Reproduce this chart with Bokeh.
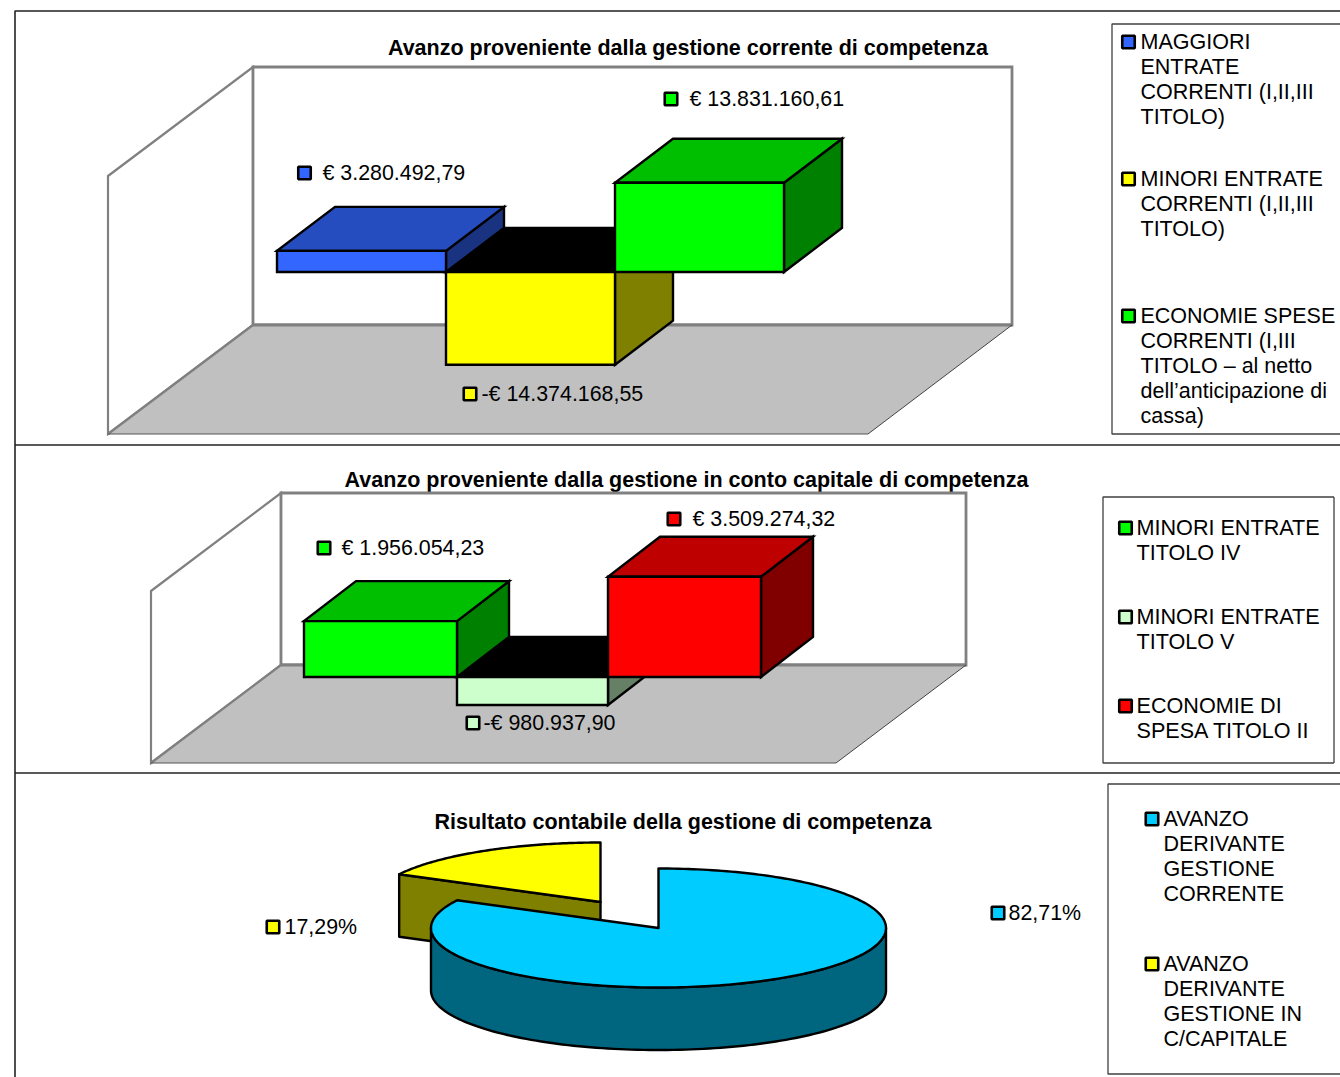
import numpy as np
from bokeh.plotting import figure
from bokeh.models import Range1d, ColumnDataSource
from bokeh.core.properties import value
from bokeh.embed import file_html
from bokeh.resources import INLINE

# ---------- data ----------
titles = ["Avanzo proveniente dalla gestione corrente di competenza",
          "Avanzo proveniente dalla gestione in conto capitale di competenza",
          "Risultato contabile della gestione di competenza"]

corrente_labels = [["MAGGIORI", "ENTRATE", "CORRENTI (I,II,III", "TITOLO)"],
                   ["MINORI ENTRATE", "CORRENTI (I,II,III", "TITOLO)"],
                   ["ECONOMIE SPESE", "CORRENTI (I,III", "TITOLO \u2013 al netto", "dell\u2019anticipazione di", "cassa)"]]
corrente_values = [3280492.79, -14374168.55, 13831160.61]
corrente_texts = ["\u20ac 3.280.492,79", "-\u20ac 14.374.168,55", "\u20ac 13.831.160,61"]

capitale_labels = [["MINORI ENTRATE", "TITOLO IV"],
                   ["MINORI ENTRATE", "TITOLO V"],
                   ["ECONOMIE DI", "SPESA TITOLO II"]]
capitale_values = [1956054.23, -980937.90, 3509274.32]
capitale_texts = ["\u20ac 1.956.054,23", "-\u20ac 980.937,90", "\u20ac 3.509.274,32"]

risultato_labels = [["AVANZO", "DERIVANTE", "GESTIONE", "CORRENTE"],
                    ["AVANZO", "DERIVANTE", "GESTIONE IN", "C/CAPITALE"]]
risultato_shares = [82.71, 17.29]
risultato_texts = ["82,71%", "17,29%"]

# ---------- styles ----------
FONT = "Liberation Sans"
BLUE = ("#3366FF", "#264DBF", "#1A3380")
YELLOW = ("#FFFF00", "#000000", "#808000")
GREEN = ("#00FF00", "#00BF00", "#008000")
PALE = ("#CCFFCC", "#000000", "#668066")
RED = ("#FF0000", "#BF0000", "#800000")
CYAN = ("#00CCFF", "#006680")

W, H = 1340, 1077
p = figure(width=W, height=H, x_range=Range1d(0.5, W + 0.5), y_range=Range1d(H + 0.5, 0.5),
           output_backend="svg", toolbar_location=None, min_border=0,
           outline_line_color=None, background_fill_color="white")
p.axis.visible = False
p.grid.visible = False


def poly(pts, fill, line="black", lw=2.4, join="miter"):
    xs, ys = zip(*pts)
    p.patch(list(xs), list(ys), fill_color=fill, line_color=line, line_width=lw, line_join=join)


def seg(a, b, color, lw):
    p.line([a[0], b[0]], [a[1], b[1]], line_color=color, line_width=lw)


def room(left, right, top, bottom, front_y, wall_x, front_r):
    dy = bottom - front_y
    poly([(wall_x, top - dy), (left, top), (left, bottom), (wall_x, front_y)], "white", "#808080", 2.2)
    poly([(left, top), (right, top), (right, bottom), (left, bottom)], "white", "#808080", 2.8)
    p.patch([wall_x, front_r, right, left], [front_y, front_y, bottom, bottom],
            fill_color="#C0C0C0", line_color=None)
    seg((left, bottom), (right, bottom), "#808080", 2.8)
    seg((wall_x, front_y), (left, bottom), "#808080", 2.2)
    seg((wall_x, front_y), (front_r, front_y), "#555555", 1.2)
    seg((front_r, front_y), (right, bottom), "#444444", 1)


def bar(x0, x1, zero, v, k, ddx, ddy, shades):
    tip = zero - v / 1e6 * k
    top = min(zero, tip)
    low = max(zero, tip)
    poly([(x1, top), (x1 + ddx, top + ddy), (x1 + ddx, low + ddy), (x1, low)], shades[2])
    poly([(x0, top), (x1, top), (x1 + ddx, top + ddy), (x0 + ddx, top + ddy)], shades[1])
    poly([(x0, top), (x1, top), (x1, low), (x0, low)], shades[0])


def write(xs, ys, texts, size="21.4px", style="normal", align="left"):
    src = ColumnDataSource(dict(x=[v - 0.5 for v in xs], y=[v - 0.5 for v in ys], t=texts))
    p.text("x", "y", "t", source=src, text_font=value(FONT), text_font_size=size,
           text_font_style=style, text_align=align, text_baseline="middle", text_color="black")


def keys(xs, ys, colors):
    src = ColumnDataSource(dict(x=xs, y=ys, c=colors))
    p.scatter("x", "y", source=src, marker="square", size=12.5, fill_color="c",
              line_color="black", line_width=2.6)


def legend(box, kx, tx, starts, labels, colors, right=True, size="21.5px"):
    x0, y0, x1, y1 = box
    p.line([x1, x0, x0, x1], [y0, y0, y1, y1], line_color="#404040", line_width=1.3)
    if right:
        p.line([x1, x1], [y0, y1], line_color="#404040", line_width=1.3)
    keys([kx] * len(starts), starts, colors)
    xs, ys, ts = [], [], []
    for s, lines in zip(starts, labels):
        for i, t in enumerate(lines):
            xs.append(tx)
            ys.append(s + i * 25)
            ts.append(t)
    write(xs, ys, ts, size)


# ---------- outer frame ----------
p.line([1345, 15, 15], [11, 11, 1085], line_color="#222222", line_width=1.6)
for yy in (445, 773):
    p.line([15, 1345], [yy, yy], line_color="#222222", line_width=1.6)

TITLE_SIZE = "21.5px"

# ---------- chart 1 ----------
write([688.5], [48], [titles[0]], TITLE_SIZE, "bold", "center")
room(253, 1012, 67, 325, 434, 108, 868)
k1, d1x, d1y, z1 = 6.45, 58, -44, 272
edges1 = [277, 446, 615, 784]
sh1 = [BLUE, YELLOW, GREEN]
for i in (1, 0, 2):
    bar(edges1[i], edges1[i + 1], z1, corrente_values[i], k1, d1x, d1y, sh1[i])
keys([304.5, 470, 671], [173, 394, 99], [s[0] for s in sh1])
write([323, 482, 690], [173, 394, 99], corrente_texts)
legend((1112, 24, 1345, 434), 1128.5, 1141, [42, 179, 316], corrente_labels, [s[0] for s in sh1], False)

# ---------- chart 2 ----------
write([687], [480], [titles[1]], TITLE_SIZE, "bold", "center")
room(281, 966, 493, 665, 763, 151, 836)
k2, d2x, d2y, z2 = 28.55, 52, -40, 677
edges2 = [304, 457, 608, 761]
sh2 = [GREEN, PALE, RED]
for i in (1, 0, 2):
    bar(edges2[i], edges2[i + 1], z2, capitale_values[i], k2, d2x, d2y, sh2[i])
keys([324, 473, 674], [548, 723, 519], [s[0] for s in sh2])
write([342, 484, 693], [548, 723, 519], capitale_texts)
legend((1103, 497, 1334, 763), 1125.5, 1137, [528, 617, 706], capitale_labels, [s[0] for s in sh2], True, "21.6px")

# ---------- chart 3 ----------
write([683.5], [822], [titles[2]], TITLE_SIZE, "bold", "center")
cx, cy, rx, ry, depth = 658.5, 928, 227.5, 59.5, 62.5
off_x, off_y = -58, -26
end = np.radians(risultato_shares[0] / sum(risultato_shares) * 360)


def rim(t, ox=0, oy=0, dz=0):
    return list(zip(cx + ox + rx * np.sin(t), cy + oy + dz - ry * np.cos(t)))


# exploded slice: its cut face first, then the top
tip = (cx + off_x, cy + off_y)
edge = rim(np.array([end]), off_x, off_y)[0]
poly([edge, tip, (tip[0], tip[1] + depth), (edge[0], edge[1] + depth)], YELLOW[2], join="round")
poly([tip] + rim(np.linspace(end, 2 * np.pi, 80), off_x, off_y), YELLOW[0], join="round")

# main slice: side wall, then top
ts = np.linspace(np.pi / 2, 3 * np.pi / 2, 120)
poly(rim(ts) + rim(ts[::-1], dz=depth), CYAN[1], join="round")
poly([(cx, cy)] + rim(np.linspace(0, end, 240)), CYAN[0], join="round")

keys([998, 273], [913, 927], [CYAN[0], YELLOW[0]])
write([1009, 285], [913, 927], risultato_texts)
legend((1108, 784, 1345, 1074), 1152, 1164, [819, 964], risultato_labels, [CYAN[0], YELLOW[0]], False)

open("out.html", "w").write(file_html(p, INLINE))
